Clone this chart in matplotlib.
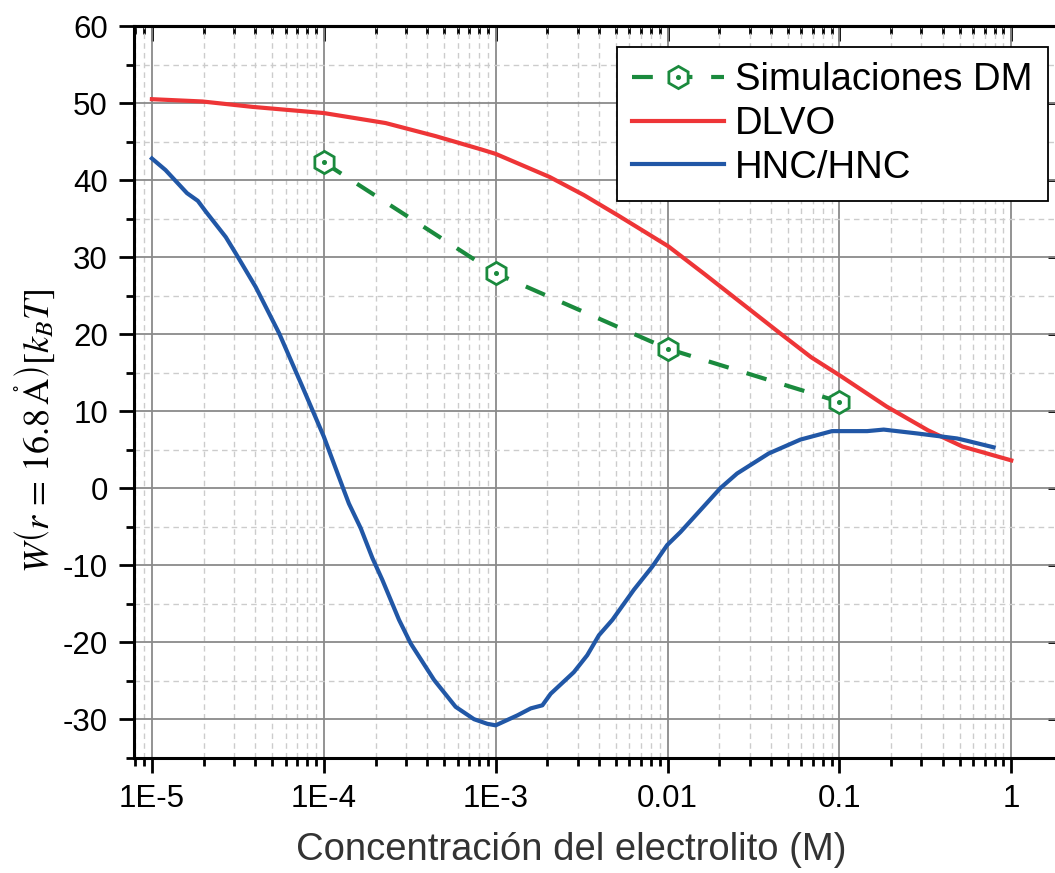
import matplotlib
matplotlib.use("Agg")
import matplotlib.pyplot as plt
from matplotlib.ticker import LogLocator, NullFormatter, MultipleLocator
from matplotlib.legend_handler import HandlerTuple

# ---- data ----
conc_dm = [1e-4, 1e-3, 1e-2, 1e-1]
w_dm = [42.3, 27.9, 18.1, 11.2]

conc_dlvo = [1e-5, 1.97e-5, 3.85e-5, 1e-4, 2.29e-4, 4.48e-4, 8.18e-4, 1e-3,
             2.06e-3, 3.26e-3, 5.16e-3, 1.01e-2, 1.64e-2, 2.60e-2, 4.52e-2,
             6.84e-2, 0.101, 0.188, 0.328, 0.520, 1.0]
w_dlvo = [50.5, 50.2, 49.5, 48.7, 47.4, 45.7, 44.0, 43.4,
          40.4, 38.05, 35.4, 31.4, 27.8, 24.3, 20.1,
          17.0, 14.6, 10.6, 7.5, 5.4, 3.6]

conc_hnc = [1e-5, 1.2e-5, 1.44e-5, 1.6e-5, 1.85e-5, 2.06e-5, 2.69e-5, 3.07e-5,
            4.02e-5, 5.5e-5, 7.5e-5, 1.0e-4, 1.31e-4, 1.40e-4, 1.64e-4, 1.92e-4,
            2.19e-4, 2.74e-4, 3.21e-4, 4.38e-4, 5.85e-4, 7.48e-4, 8.93e-4, 1.0e-3,
            1.34e-3, 1.60e-3, 1.87e-3, 2.09e-3, 2.85e-3, 3.41e-3, 3.99e-3, 4.78e-3,
            6.37e-3, 8.15e-3, 9.95e-3, 1.19e-2, 2.03e-2, 2.54e-2, 3.88e-2, 5.93e-2,
            9.06e-2, 0.145, 0.181, 0.283, 0.483, 0.552, 0.789]
w_hnc = [42.8, 41.3, 39.4, 38.3, 37.3, 35.9, 32.6, 30.5,
         26.1, 20.1, 13.2, 6.7, -0.3, -2.0, -5.2, -9.1,
         -11.9, -17.1, -20.2, -24.9, -28.4, -30.0, -30.6, -30.8,
         -29.5, -28.6, -28.2, -26.7, -23.9, -21.7, -19.1, -17.1,
         -13.2, -10.2, -7.4, -5.7, 0.0, 1.9, 4.5, 6.3,
         7.4, 7.4, 7.6, 7.1, 6.45, 6.15, 5.3]

xtick_vals = [1e-5, 1e-4, 1e-3, 1e-2, 1e-1, 1]
xtick_labels = ["1E-5", "1E-4", "1E-3", "0.01", "0.1", "1"]
ytick_vals = list(range(-30, 61, 10))
ytick_labels = [str(v) for v in ytick_vals]

RED = "#ee3537"
BLUE = "#2157a6"
GREEN = "#1a8a3d"

plt.rcParams["font.family"] = ["Liberation Sans", "DejaVu Sans"]
plt.rcParams["mathtext.fontset"] = "stix"

fig = plt.figure(figsize=(10.55, 8.73), dpi=100)
ax = fig.add_axes([0.1273, 0.1321, 1.0076 - 0.1273, 0.9702 - 0.1321])

ax.set_xscale("log")
ax.set_xlim(7.9e-6, 2.0)
ax.set_ylim(-35, 60)

# grid
ax.grid(which="major", color="#8a8a8a", lw=1.3, ls="-", zorder=0)
ax.grid(which="minor", color="#cccccc", lw=1.0, ls=(0, (4, 3)), zorder=0)
ax.set_axisbelow(True)

# curves
ax.plot(conc_dlvo, w_dlvo, color=RED, lw=3.0, zorder=3, label="DLVO")
ax.plot(conc_hnc, w_hnc, color=BLUE, lw=3.0, zorder=3, label="HNC/HNC")
dm_line, = ax.plot(conc_dm, w_dm, color=GREEN, lw=3.0, ls=(0, (5, 4.5)),
                   marker="h", ms=16, mfc="white", mec=GREEN, mew=2.0, zorder=4)
dm_dot, = ax.plot(conc_dm, w_dm, ls="none", marker="o", ms=2.6, color=GREEN, zorder=5)

# ticks
ax.set_xticks(xtick_vals, xtick_labels)
ax.xaxis.set_minor_locator(LogLocator(base=10, subs=range(2, 10), numticks=20))
ax.xaxis.set_minor_formatter(NullFormatter())
ax.set_yticks(ytick_vals, ytick_labels)
ax.yaxis.set_minor_locator(MultipleLocator(5))
ax.tick_params(which="major", direction="out", length=11, width=2.0, labelsize=22.5,
               pad=8, top=False, right=False)
ax.tick_params(which="minor", direction="out", length=6, width=2.0,
               top=False, right=False)

for s in ax.spines.values():
    s.set_linewidth(2.2)

# inward ticks on the top and right sides
top = ax.secondary_xaxis("top")
top.set_xticks(xtick_vals)
top.xaxis.set_minor_locator(LogLocator(base=10, subs=range(2, 10), numticks=20))
top.tick_params(which="major", direction="in", length=11, width=2.0, labeltop=False)
top.tick_params(which="minor", direction="in", length=6, width=2.0)
top.xaxis.set_minor_formatter(NullFormatter())
top.set_xticklabels([])
top.spines["top"].set_linewidth(2.2)

right = ax.secondary_yaxis("right")
right.set_yticks(ytick_vals)
right.yaxis.set_minor_locator(MultipleLocator(5))
right.tick_params(which="major", direction="in", length=11, width=2.0, labelright=False)
right.tick_params(which="minor", direction="in", length=6, width=2.0)
right.set_yticklabels([])
right.spines["right"].set_linewidth(2.2)

# axis titles
fig.text(571 / 1055, (873 - 860) / 873, "Concentración del electrolito (M)",
         fontsize=27.5, color="#333333", ha="center", va="baseline")
fig.text(35 / 1055, 0.506,
         r"$W\left(r\, =\, 16.8\,\mathring{\mathrm{A}}\right)[k_B T]$",
         fontsize=26, rotation=90, ha="center", va="center")

# legend
leg = fig.legend([(dm_line, dm_dot), ax.lines[0], ax.lines[1]],
                 ["Simulaciones DM", "DLVO", "HNC/HNC"],
                 handler_map={tuple: HandlerTuple(ndivide=1)},
                 loc="upper right", bbox_to_anchor=(1048 / 1055, (873 - 47) / 873),
                 bbox_transform=fig.transFigure, borderaxespad=0,
                 fontsize=27.5, handlelength=2.4, handletextpad=0.3,
                 labelspacing=0.2, borderpad=0.4, fancybox=False,
                 framealpha=1, edgecolor="black", numpoints=1)
leg.get_frame().set_linewidth(1.3)

fig.savefig("out.png", dpi=100)
